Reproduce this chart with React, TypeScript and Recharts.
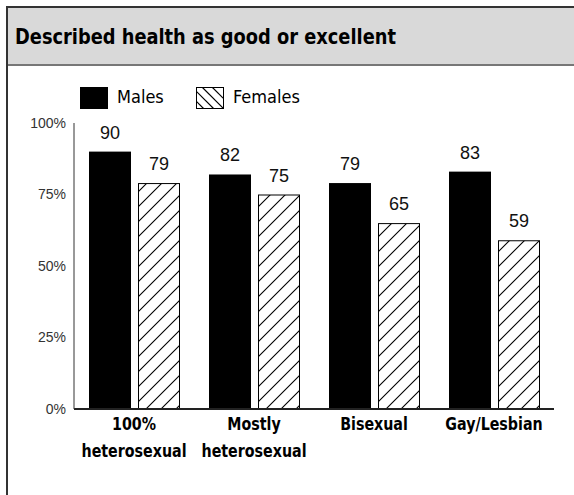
import { BarChart, Bar, XAxis, YAxis, LabelList } from "recharts";

const categories = ["100%\nheterosexual", "Mostly\nheterosexual", "Bisexual", "Gay/Lesbian"];
const males = [90, 82, 79, 83];
const females = [79, 75, 65, 59];
const yTicks = [0, 25, 50, 75, 100];

const data = categories.map((name, i) => ({ name, males: males[i], females: females[i] }));

const NARROW = '"DejaVu Sans Condensed", "DejaVu Sans", sans-serif';
const SANS = '"Liberation Sans", Arial, sans-serif';

function MaleBar(props: any) {
  const { x, y, width, height } = props;
  if (height <= 0) return null;
  return (
    <g>
      <rect x={x - 2} y={y - 2} width={width + 4} height={height + 3} fill="#fff" />
      <rect x={x} y={y} width={width} height={height} fill="#000" />
    </g>
  );
}

function FemaleBar(props: any) {
  const { x, y, width, height } = props;
  if (height <= 0) return null;
  return (
    <g>
      <rect x={x - 2} y={y - 2} width={width + 4} height={height + 3} fill="#fff" />
      <rect
        x={x + 0.5}
        y={y + 0.5}
        width={width - 1}
        height={height - 1}
        fill="url(#hatch)"
        stroke="#000"
        strokeWidth={1}
      />
    </g>
  );
}

// two-line bold condensed category labels
function CategoryTick(props: any) {
  const { x, y, payload } = props;
  const lines = String(payload.value).split("\n");
  return (
    <g>
      {lines.map((line, i) => (
        <text
          key={i}
          transform={`translate(${x},${y + 13 + i * 27}) scale(0.88,1)`}
          textAnchor="middle"
          fontFamily={NARROW}
          style={{ fontStretch: "condensed" }}
          fontWeight="bold"
          fontSize={18}
          fill="#000"
        >
          {line}
        </text>
      ))}
    </g>
  );
}

export default function App() {
  return (
    <div style={{ position: "fixed", left: 0, top: 0, width: 574, height: 495, background: "#fff", overflow: "hidden" }}>
      {/* header band */}
      <div
        style={{
          position: "absolute",
          left: 6,
          top: 6,
          width: 600,
          height: 56,
          background: "#d9d9d9",
          borderTop: "2px solid #333",
          borderBottom: "2px solid #777",
        }}
      />
      <div style={{ position: "absolute", left: 6, top: 6, width: 2, height: 500, background: "#333" }} />
      <div
        style={{
          position: "absolute",
          left: 15,
          top: 24,
          fontFamily: NARROW,
          fontStretch: "condensed",
          fontWeight: "bold",
          fontSize: 22,
          color: "#000",
          whiteSpace: "nowrap",
          transform: "scaleX(0.9)",
          transformOrigin: "left top",
        }}
      >
        Described health as good or excellent
      </div>

      {/* legend */}
      <div style={{ position: "absolute", left: 80, top: 87, width: 28, height: 22, background: "#000" }} />
      <div style={{ position: "absolute", left: 117, top: 86, fontFamily: NARROW, fontStretch: "condensed", fontSize: 18, color: "#000" }}>
        Males
      </div>
      <svg style={{ position: "absolute", left: 196, top: 87 }} width={28} height={22}>
        <defs>
          <clipPath id="legclip">
            <rect x={0} y={0} width={28} height={22} />
          </clipPath>
        </defs>
        <g clipPath="url(#legclip)" stroke="#000" strokeWidth={1.2}>
          <line x1={-4} y1={0} x2={18} y2={22} />
          <line x1={6} y1={0} x2={28} y2={22} />
          <line x1={-14} y1={0} x2={8} y2={22} />
          <line x1={16} y1={0} x2={38} y2={22} />
        </g>
        <rect x={0.5} y={0.5} width={27} height={21} fill="none" stroke="#000" />
      </svg>
      <div style={{ position: "absolute", left: 233, top: 86, fontFamily: NARROW, fontStretch: "condensed", fontSize: 18, color: "#000" }}>
        Females
      </div>

      <div style={{ position: "absolute", left: 0, top: 0 }}>
        <BarChart
          width={574}
          height={495}
          data={data}
          margin={{ top: 123, right: 20, bottom: 0, left: 0 }}
          barCategoryGap={15}
          barGap={7}
        >
          <defs>
            <pattern id="hatch" patternUnits="userSpaceOnUse" width={15} height={15}>
              <rect width={15} height={15} fill="#fff" />
              <path d="M-2,2 L2,-2 M0,15 L15,0 M13,17 L17,13" stroke="#000" strokeWidth={1.1} />
            </pattern>
          </defs>
          <XAxis
            dataKey="name"
            axisLine={{ stroke: "#222", strokeWidth: 2 }}
            tickLine={false}
            tick={<CategoryTick />}
            interval={0}
            height={86}
          />
          <YAxis
            domain={[0, 100]}
            ticks={yTicks}
            tickFormatter={(v) => `${v}%`}
            axisLine={{ stroke: "#333" }}
            tickLine={false}
            width={74}
            tick={{ fill: "#333", fontSize: 14, fontFamily: SANS }}
          />
          <Bar dataKey="males" shape={<MaleBar />} isAnimationActive={false}>
            <LabelList dataKey="males" position="top" offset={13} fill="#111" fontSize={18} fontFamily={SANS} />
          </Bar>
          <Bar dataKey="females" shape={<FemaleBar />} isAnimationActive={false}>
            <LabelList dataKey="females" position="top" offset={13} fill="#111" fontSize={18} fontFamily={SANS} />
          </Bar>
        </BarChart>
      </div>
    </div>
  );
}
